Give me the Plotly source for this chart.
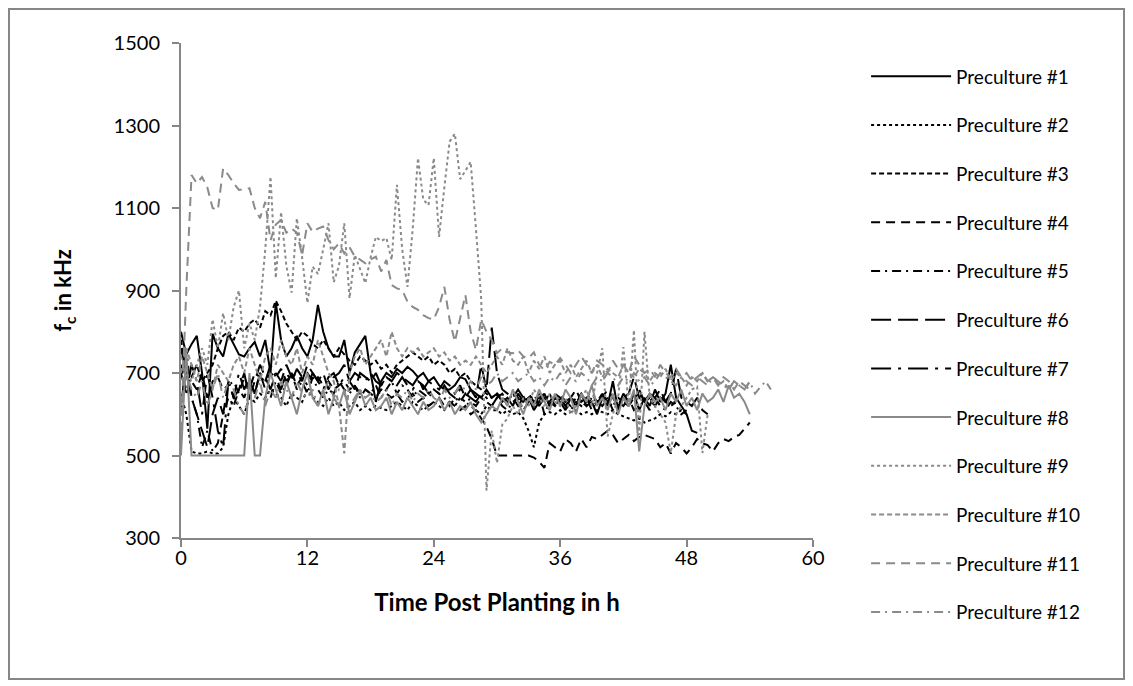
import plotly.graph_objects as go

# sampling step of the measurements (h)
STEP_H = 0.5

SERIES_NAMES = [f"Preculture #{i}" for i in range(1, 13)]

pc1 = [800, 745, 770, 790, 700, 565, 795, 760, 740, 795, 770, 745,
       740, 760, 775, 740, 780, 700, 870, 780, 740, 760, 790, 760,
       740, 780, 865, 800, 760, 740, 740, 780, 700, 750, 770, 790,
       700, 630, 680, 700, 690, 710, 700, 715, 705, 690, 700, 680,
       690, 670, 660, 660, 670, 690, 685, 660, 650, 640, 660, 640,
       650, 630, 640, 620, 650, 630, 640, 610, 630, 650, 620, 640,
       630, 610, 640, 620, 650, 620, 630, 600, 640, 620, 680, 610,
       640, 620, 650, 610, 640, 620, 660, 630, 650, 720, 640, 620,
       600, 560, 555]
pc2 = [650, 600, 510, 505, 505, 510, 505, 505, 520, 600, 640, 620,
       600, 640, 630, 650, 640, 660, 650, 640, 620, 650, 640, 630,
       660, 640, 630, 620, 640, 620, 630, 610, 620, 630, 610, 620,
       610, 620, 615, 610, 620, 630, 620, 610, 630, 620, 610, 620,
       630, 620, 610, 630, 620, 640, 630, 620, 610, 600, 620, 610,
       610, 600, 610, 600, 605, 590, 560, 520, 580, 600, 605, 600,
       610, 600, 605, 610, 600, 605, 600, 610, 605, 600, 610, 600,
       595, 590, 585, 590, 580, 585, 590, 600, 595, 605, 600, 610,
       600]
pc3 = [780, 700, 690, 720, 680, 700, 720, 760, 790, 800, 780, 810,
       800, 820, 830, 810, 850, 840, 875, 850, 820, 800, 780, 800,
       790, 770, 760, 780, 760, 740, 760, 745, 730, 720, 740, 730,
       720, 730, 710, 720, 700, 720, 730, 740, 750, 740, 730, 740,
       720, 730, 720, 700, 710, 690, 700, 680, 670, 660, 650, 640,
       650, 640, 630, 650, 640, 630, 640, 620, 640, 630, 650, 620,
       640, 630, 620, 640, 630, 620, 640, 630, 650, 630, 620, 640,
       630, 620, 640, 650, 630, 640, 620, 640, 630, 620, 630]
pc4 = [720, 650, 680, 660, 700, 640, 680, 690, 660, 670, 680, 650,
       690, 660, 700, 690, 680, 700, 690, 710, 680, 700, 670, 690,
       700, 680, 690, 670, 680, 660, 670, 680, 660, 670, 650, 660,
       650, 640, 660, 650, 640, 650, 630, 640, 650, 630, 640, 620,
       630, 640, 620, 630, 620, 610, 620, 600, 610, 590, 570, 540,
       500, 500, 500, 500, 500, 500, 500, 495, 485, 470, 530, 520,
       510, 540, 530, 510, 540, 520, 545, 540, 550, 560, 550, 530,
       540, 550, 535, 545, 550, 545, 540, 520, 530, 505, 530, 520,
       505, 520, 540, 530, 525, 510, 530, 540, 535, 545, 550, 565,
       580]
pc5 = [600, 760, 640, 600, 520, 560, 510, 530, 600, 640, 620, 660,
       640, 680, 650, 700, 660, 640, 680, 650, 670, 700, 660, 680,
       650, 690, 660, 640, 660, 650, 680, 660, 650, 670, 640, 660,
       650, 670, 640, 660, 680, 650, 670, 660, 640, 660, 650, 640,
       660, 650, 640, 620, 640, 630, 650, 630, 620, 640, 630, 620,
       640, 620, 610, 630, 640, 610, 630, 620, 650, 600, 630, 620,
       640, 620, 610, 630, 620, 640, 610, 630, 620, 640, 610, 630,
       620, 640, 610, 620, 630, 610, 640, 620, 610, 630, 620, 600,
       610]
pc6 = [760, 700, 640, 600, 560, 520, 600, 640, 600, 680, 640, 660,
       700, 640, 680, 720, 690, 660, 700, 680, 720, 690, 700, 680,
       720, 700, 680, 700, 660, 690, 700, 720, 680, 660, 700, 690,
       680, 700, 670, 690, 680, 700, 690, 680, 670, 690, 660, 680,
       670, 660, 680, 670, 650, 670, 640, 660, 640, 720, 660, 810,
       700, 660, 650, 640, 660, 640, 650, 630, 640, 650, 620, 640,
       650, 630, 640, 660, 630, 640, 650, 630, 640, 660, 640, 620,
       640, 650, 690, 640, 630, 650, 640, 660, 630, 650, 710, 640,
       630, 620, 640, 610, 600]
pc7 = [700, 650, 720, 680, 600, 700, 640, 560, 520, 680, 640, 700,
       660, 690, 650, 700, 680, 720, 690, 660, 700, 680, 710, 690,
       670, 700, 680, 660, 690, 700, 670, 690, 680, 700, 690, 680,
       700, 680, 670, 690, 680, 670, 690, 670, 660, 680, 670, 650,
       660, 650, 670, 650, 640, 660, 650, 640, 630, 650, 640, 620,
       640, 650, 630, 640, 620, 640, 630, 650, 620, 640, 630, 650,
       640, 620, 640, 630, 650, 630, 640, 620, 650, 630, 640, 620,
       650, 630, 640, 660, 630, 640, 620, 640, 630, 650, 620]
pc8 = [500, 760, 500, 500, 500, 500, 500, 500, 500, 500, 500, 500,
       500, 700, 500, 500, 640, 700, 660, 620, 680, 640, 600, 660,
       700, 640, 620, 660, 600, 640, 620, 660, 600, 630, 660, 620,
       640, 610, 620, 640, 600, 630, 610, 640, 620, 600, 630, 610,
       620, 640, 610, 630, 600, 620, 610, 630, 600, 580, 600, 620,
       610, 640, 620, 660, 630, 600, 640, 620, 660, 630, 610, 650,
       620, 660, 640, 600, 650, 630, 670, 620, 640, 610, 650, 600,
       640, 620, 660, 510, 620, 650, 630, 640, 610, 650, 630, 660,
       620, 640, 610, 650, 630, 640, 660, 630, 670, 640, 650, 630,
       600]
pc9 = [740, 700, 680, 720, 760, 720, 830, 760, 845, 780, 860, 900,
       760, 820, 780, 860, 1000, 1176, 930, 1090, 960, 895, 1075, 980,
       870, 958, 940, 1000, 1063, 920, 960, 1063, 881, 986, 950, 918,
       980, 1030, 1020, 1027, 974, 1156, 1000, 909, 1050, 1221, 1120, 1107,
       1221, 1030, 1150, 1261, 1280, 1170, 1190, 1212, 1050, 880, 415, 560,
       482, 575, 590, 620, 600, 640, 620, 660, 640, 620, 650, 630,
       620, 640, 600, 620, 640, 660, 620, 700, 760, 546, 600, 640,
       763, 620, 804, 550, 800, 640, 620, 600, 580, 506, 600, 620,
       640, 660, 667, 506, 600]
pc10 = [700, 760, 720, 680, 740, 700, 660, 720, 700, 680, 720, 740,
        700, 760, 720, 680, 740, 760, 720, 780, 740, 720, 760, 700,
        740, 720, 780, 740, 700, 680, 620, 505, 700, 740, 760, 720,
        740, 760, 780, 740, 800, 760, 740, 760, 750, 760, 740, 750,
        760, 740, 750, 730, 740, 720, 730, 720, 740, 720, 700, 720,
        740, 720, 760, 730, 720, 740, 700, 730, 710, 740, 700, 720,
        730, 700, 720, 690, 710, 730, 700, 720, 690, 710, 700, 690,
        720, 700, 690, 710, 700, 680, 700, 690, 710, 680, 700, 690,
        670, 690, 680, 700, 680, 690, 670, 680, 660, 680, 670, 660,
        680]
pc11 = [560, 900, 1180, 1160, 1175, 1150, 1100, 1095, 1196, 1180, 1160, 1144,
        1145, 1148, 1100, 1075, 1115, 1022, 1060, 1071, 1040, 1050, 1040, 986,
        1063, 1042, 1050, 1055, 1022, 1000, 1014, 990, 1005, 982, 975, 966,
        975, 982, 946, 974, 913, 905, 901, 873, 860, 853, 840, 833,
        830, 860, 909, 829, 776, 830, 889, 800, 756, 829, 800, 780,
        748, 760, 750, 748, 755, 740, 736, 750, 720, 707, 727, 720,
        736, 720, 700, 720, 740, 720, 700, 730, 720, 700, 730, 710,
        720, 700, 740, 720, 700, 710, 690, 720, 700, 690, 710, 690,
        700, 680, 690, 700, 680, 690, 670, 690, 680, 660, 680, 670,
        660]
pc12 = [620, 700, 660, 640, 680, 620, 660, 700, 640, 680, 660, 620,
        600, 660, 640, 680, 620, 660, 640, 680, 660, 640, 680, 650,
        640, 660, 620, 650, 680, 640, 660, 650, 620, 640, 660, 640,
        650, 630, 640, 660, 620, 650, 640, 660, 630, 650, 640, 660,
        640, 630, 660, 640, 650, 670, 660, 680, 660, 690, 670, 680,
        700, 680, 690, 700, 680, 690, 700, 680, 690, 670, 690, 680,
        700, 670, 690, 680, 700, 690, 670, 690, 680, 700, 690, 670,
        690, 680, 700, 680, 690, 670, 680, 700, 690, 680, 670, 690,
        680, 670, 690, 680, 670, 690, 680, 670, 660, 680, 670, 660,
        679, 650, 666, 680, 660]

SERIES = [pc1, pc2, pc3, pc4, pc5, pc6, pc7, pc8, pc9, pc10, pc11, pc12]

X_TICKS = [0, 12, 24, 36, 48, 60]
Y_TICKS = [300, 500, 700, 900, 1100, 1300, 1500]

BLACK = "#000000"
GREY = "#8a8a8a"
STYLES = [
    (BLACK, "solid"),
    (BLACK, "dot"),
    (BLACK, "5px,3px"),
    (BLACK, "9px,6px"),
    (BLACK, "9px,5px,2px,5px"),
    (BLACK, "20px,7px"),
    (BLACK, "20px,7px,3px,7px"),
    (GREY, "solid"),
    (GREY, "dot"),
    (GREY, "5px,3px"),
    (GREY, "9px,6px"),
    (GREY, "9px,5px,2px,5px"),
]

FONT = "Lato"

fig = go.Figure()
for i, (name, vals) in enumerate(zip(SERIES_NAMES, SERIES)):
    color, dash = STYLES[i]
    hours = [k * STEP_H for k in range(len(vals))]
    fig.add_trace(go.Scatter(
        x=hours, y=vals, mode="lines", name=name,
        legendgroup=name,
        line=dict(color=color, width=2, dash=dash),
    ))

axis_common = dict(
    showgrid=False, zeroline=False, showline=True,
    linecolor="#868686", linewidth=2,
    ticks="outside", ticklen=7, tickwidth=2, tickcolor="#868686",
    tickfont=dict(family=FONT, size=20, color="#000000"),
)

# the page body adds an 8px offset, so the figure is 8px smaller than the window
fig.update_layout(
    width=1125, height=678,
    margin=dict(l=173, r=320, t=35, b=148),
    paper_bgcolor="white", plot_bgcolor="white",
    font=dict(family=FONT, size=19, color="#000000"),
    xaxis=dict(range=[0, 60], tickvals=X_TICKS, ticklabelstandoff=-6,
               title=dict(text="<b>Time Post Planting in h</b>",
                          font=dict(family=FONT, size=24), standoff=26),
               **axis_common),
    yaxis=dict(range=[300, 1500], tickvals=Y_TICKS, ticklabelstandoff=8,
               title=dict(text="<b>f<sub>c</sub> in kHz</b>",
                          font=dict(family=FONT, size=22), standoff=36),
               **axis_common),
    legend=dict(x=1.084, y=0.971, xanchor="left", yanchor="top",
                traceorder="grouped", tracegroupgap=21, maxheight=660,
                itemwidth=80, font=dict(family=FONT, size=19),
                bgcolor="rgba(0,0,0,0)"),
    shapes=[dict(type="rect", xref="paper", yref="paper",
                 x0=-0.2722, x1=1.4921, y0=-0.2848, y1=1.0687,
                 line=dict(color="#868686", width=2))],
)

fig.write_html("out.html")
